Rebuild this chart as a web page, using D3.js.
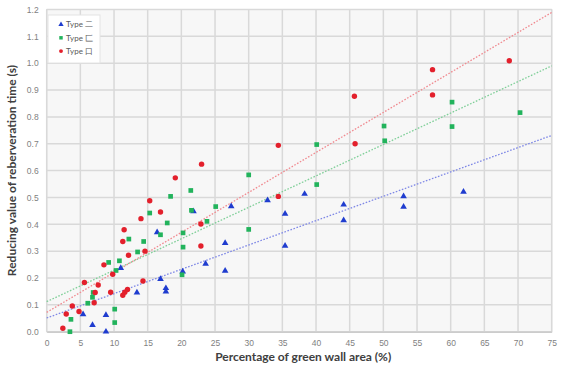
<!DOCTYPE html>
<html>
<head>
<meta charset="utf-8">
<script src="https://cdn.jsdelivr.net/npm/d3@7"></script>
<style>
  body { margin: 0; background: #fff; }
  svg { display: block; font-family: Lato, "Open Sans", sans-serif; }
</style>
</head>
<body>
<svg id="chart"></svg>
<script>
// series names (legend)
var seriesNames = ["Type 二", "Type 匚", "Type 口"];
var seriesColors = ["#1f3ccf", "#22b35c", "#e3202c"];
var trendColors = ["#7f88e6", "#7fcf98", "#f08a90"];

// Type 二 (blue triangles): [green wall %, reducing value s]
var typeA = [
  [5.4, 0.065], [6.8, 0.025], [8.8, 0.062], [8.8, 0.0], [11.0, 0.237],
  [13.4, 0.146], [16.9, 0.196], [17.7, 0.162], [17.7, 0.149], [16.4, 0.37],
  [21.8, 0.448], [23.6, 0.253], [27.4, 0.467], [32.8, 0.489], [38.3, 0.513],
  [35.4, 0.439], [35.4, 0.32], [26.5, 0.33], [26.5, 0.227], [20.2, 0.224],
  [44.1, 0.473], [44.1, 0.415], [53.0, 0.504], [53.0, 0.465], [61.9, 0.521]
];
// Type 匚 (green squares)
var typeB = [
  [3.45, 0.0], [3.6, 0.046], [6.1, 0.106], [6.8, 0.128], [6.9, 0.146],
  [9.2, 0.258], [10.8, 0.264], [10.3, 0.228], [10.1, 0.084], [10.1, 0.034],
  [18.4, 0.504], [15.3, 0.442], [17.9, 0.405], [12.2, 0.345], [14.4, 0.336],
  [13.5, 0.297], [20.1, 0.212], [20.25, 0.368], [20.25, 0.315], [30.0, 0.584],
  [21.4, 0.526], [21.5, 0.452], [25.1, 0.466], [23.8, 0.411], [16.9, 0.361],
  [30.0, 0.381], [40.1, 0.697], [40.1, 0.548], [60.2, 0.855], [60.2, 0.764],
  [70.3, 0.816], [50.1, 0.766], [50.2, 0.711]
];
// Type 口 (red circles)
var typeC = [
  [2.4, 0.013], [2.9, 0.066], [3.8, 0.096], [4.8, 0.075], [5.6, 0.183],
  [7.65, 0.174], [7.2, 0.146], [7.05, 0.108], [9.5, 0.147], [8.5, 0.249],
  [9.8, 0.214], [19.1, 0.573], [15.3, 0.488], [16.9, 0.446], [14.0, 0.421],
  [11.5, 0.38], [11.3, 0.336], [12.15, 0.285], [14.6, 0.30], [14.3, 0.189],
  [11.3, 0.136], [11.6, 0.147], [12.0, 0.157], [23.0, 0.624], [22.9, 0.401],
  [22.9, 0.319], [34.4, 0.694], [34.4, 0.504], [45.8, 0.70], [45.7, 0.877],
  [57.3, 0.976], [57.3, 0.882], [68.7, 1.009]
];
// dotted trend lines: value at x=0 and at x=75
var trendStart = [0.051, 0.112, 0.072];
var trendEnd = [0.731, 0.99, 1.189];

var xTicks = d3.range(0, 80, 5);
var yTicks = d3.range(0, 13).map(function (d) { return d / 10; });

var width = 567, height = 371;
var margin = { left: 46.7, right: 15.3, top: 9.5, bottom: 39.3 };

var svg = d3.select("#chart").attr("width", width).attr("height", height);

var x = d3.scaleLinear().domain([0, 75]).range([margin.left, width - margin.right]);
var y = d3.scaleLinear().domain([0, 1.2]).range([height - margin.bottom, margin.top]);

// plot background
svg.append("rect")
  .attr("x", x(0)).attr("y", y(1.2))
  .attr("width", x(75) - x(0)).attr("height", y(0) - y(1.2))
  .attr("fill", "#f7f7f7").attr("stroke", "#d6d6d6");

// grid
svg.append("g").selectAll("line").data(xTicks).enter().append("line")
  .attr("x1", function (d) { return x(d); }).attr("x2", function (d) { return x(d); })
  .attr("y1", y(0)).attr("y2", y(1.2))
  .attr("stroke", "#d9d9d9").attr("stroke-width", 1.5);
svg.append("g").selectAll("line").data(yTicks).enter().append("line")
  .attr("y1", function (d) { return y(d); }).attr("y2", function (d) { return y(d); })
  .attr("x1", x(0)).attr("x2", x(75))
  .attr("stroke", "#d9d9d9").attr("stroke-width", 1.5);

// axes
var xAxis = d3.axisBottom(x).tickValues(xTicks).tickSize(0).tickPadding(8);
var yAxis = d3.axisLeft(y).tickValues(yTicks).tickSize(0).tickPadding(8)
  .tickFormat(d3.format(".1f"));

var gx = svg.append("g").attr("transform", "translate(0," + y(0) + ")").call(xAxis);
var gy = svg.append("g").attr("transform", "translate(" + x(0) + ",0)").call(yAxis);
[gx, gy].forEach(function (g) {
  g.select(".domain").attr("stroke", "#bfbfbf");
  g.selectAll("text").attr("fill", "#7f7f7f").style("font-size", "8.5px");
});
gy.select(".domain").remove();

// trend lines
var trend = svg.append("g");
trendStart.forEach(function (v, i) {
  trend.append("line")
    .attr("x1", x(0)).attr("y1", y(v))
    .attr("x2", x(75)).attr("y2", y(trendEnd[i]))
    .attr("stroke", trendColors[i]).attr("stroke-width", 1.3)
    .attr("stroke-dasharray", "1.6,1.6");
});

// markers
var tri = d3.symbol().type(d3.symbolTriangle).size(19);
var sq = d3.symbol().type(d3.symbolSquare).size(22);
var circ = d3.symbol().type(d3.symbolCircle).size(23);
var shapes = [tri, sq, circ];
[typeA, typeB, typeC].forEach(function (series, i) {
  svg.append("g").selectAll("path").data(series).enter().append("path")
    .attr("transform", function (d) { return "translate(" + x(d[0]) + "," + y(d[1]) + ")"; })
    .attr("d", shapes[i])
    .attr("fill", seriesColors[i]);
});

// legend
var legend = svg.append("g").attr("transform", "translate(48,15)");
legend.append("rect").attr("width", 52).attr("height", 48)
  .attr("fill", "#fff").attr("stroke", "#e4e4e4");
seriesNames.forEach(function (name, i) {
  var row = legend.append("g").attr("transform", "translate(13," + (9.5 + i * 13.3) + ")");
  row.append("path").attr("d", d3.symbol().type([d3.symbolTriangle, d3.symbolSquare, d3.symbolCircle][i]).size(12))
    .attr("fill", seriesColors[i]);
  row.append("text").attr("x", 5).attr("dy", "0.35em")
    .attr("fill", "#595959").style("font-size", "8px").text(name);
});

// axis titles
svg.append("text")
  .attr("x", (x(0) + x(75)) / 2 + 4).attr("y", height - 10)
  .attr("text-anchor", "middle").attr("font-weight", "bold")
  .attr("fill", "#404040").style("font-size", "12px")
  .text("Percentage of green wall area (%)");
svg.append("text")
  .attr("transform", "translate(16," + (y(0) + y(1.2)) / 2 + ") rotate(-90)")
  .attr("text-anchor", "middle").attr("font-weight", "bold")
  .attr("fill", "#404040").style("font-size", "12px")
  .text("Reducing value of reberveration time (s)");
</script>
</body>
</html>
